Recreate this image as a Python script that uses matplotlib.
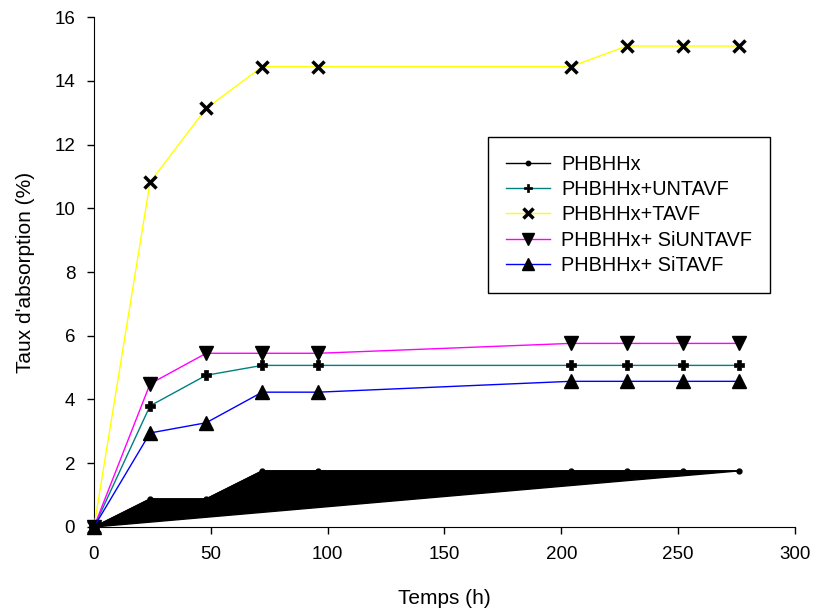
import matplotlib
matplotlib.use("Agg")
import matplotlib.pyplot as plt

plt.rcParams['font.family'] = ['Liberation Sans', 'DejaVu Sans']

# Data
temps = [0, 24, 48, 72, 96, 204, 228, 252, 276]
phbhhx = [0, 0.88, 0.88, 1.76, 1.76, 1.76, 1.76, 1.76, 1.76]
untavf = [0, 3.80, 4.76, 5.07, 5.07, 5.07, 5.07, 5.07, 5.07]
tavf = [0, 10.82, 13.13, 14.44, 14.44, 14.44, 15.09, 15.09, 15.09]
siuntavf = [0, 4.49, 5.45, 5.45, 5.45, 5.76, 5.76, 5.76, 5.76]
sitavf = [0, 2.95, 3.27, 4.23, 4.23, 4.57, 4.57, 4.57, 4.57]

fig = plt.figure(figsize=(8.2, 6.14), dpi=100)
ax = fig.add_axes([0.1146, 0.1417, 0.8549, 0.8306])

# PHBHHx curve appears as a filled (closed) polygon in the original
ax.fill(temps, phbhhx, color='black', zorder=2)
ax.plot(temps, phbhhx, color='black', lw=1, marker='o', ms=3.5,
        mfc='black', mec='black', label='PHBHHx', zorder=3, clip_on=False)
ax.plot(temps, untavf, color='#008080', lw=1, marker='P', ms=7,
        mfc='black', mec='black', mew=0.5, label='PHBHHx+UNTAVF', zorder=3, clip_on=False)
ax.plot(temps, tavf, color='yellow', lw=1, marker='x', ms=8,
        mec='black', mew=2.5, label='PHBHHx+TAVF', zorder=3, clip_on=False)
ax.plot(temps, siuntavf, color='magenta', lw=1, marker='v', ms=10,
        mfc='black', mec='black', label='PHBHHx+ SiUNTAVF', zorder=3, clip_on=False)
ax.plot(temps, sitavf, color='blue', lw=1, marker='^', ms=10,
        mfc='black', mec='black', label='PHBHHx+ SiTAVF', zorder=3, clip_on=False)

ax.set_xlim(0, 300)
ax.set_ylim(0, 16)
ax.set_xticks(range(0, 301, 50))
ax.set_yticks(range(0, 17, 2))
ax.spines['top'].set_visible(False)
ax.spines['right'].set_visible(False)
ax.tick_params(direction='out', length=5, width=1, labelsize=13.5, pad=8.5)
ax.set_xlabel('Temps (h)', fontsize=15, labelpad=19)
ax.set_ylabel("Taux d'absorption (%)", fontsize=15, labelpad=14)

leg = ax.legend(loc='upper left', bbox_to_anchor=(0.562, 0.765), fontsize=14.3,
                frameon=True, fancybox=False, edgecolor='black', framealpha=1,
                handlelength=2.2, handletextpad=0.6, borderpad=0.9,
                labelspacing=0.32, borderaxespad=0, markerscale=0.9)
leg.get_frame().set_linewidth(1)

fig.savefig('out.png', dpi=100)
